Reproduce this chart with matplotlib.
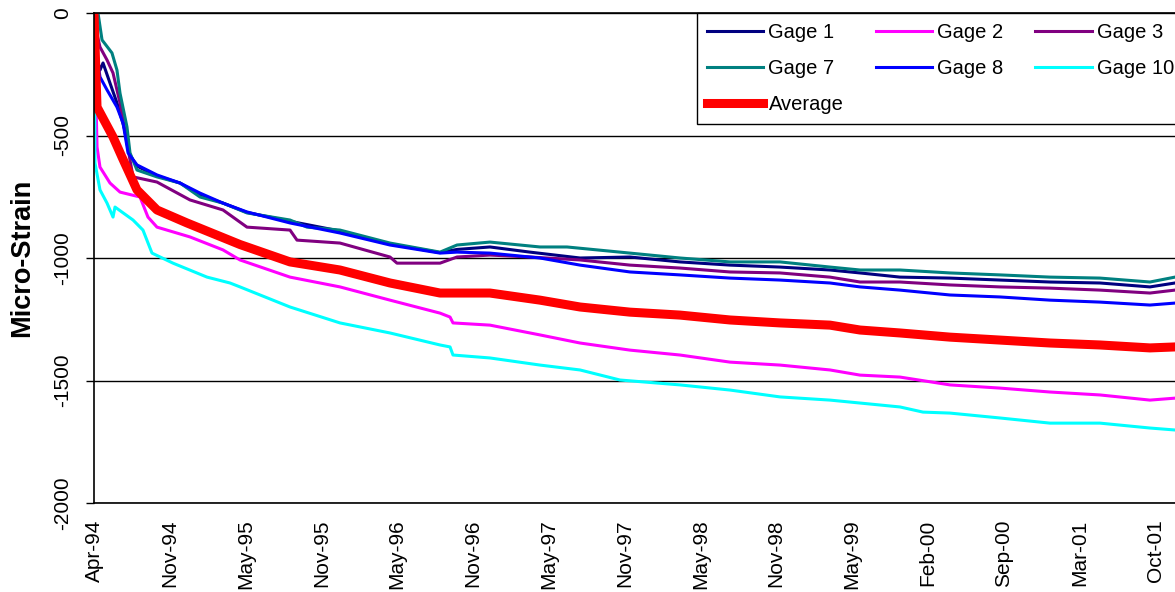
import matplotlib.pyplot as plt

plt.rcParams['font.family'] = ['Liberation Sans', 'DejaVu Sans']

# axis labels shown every N readings (category axis)
tick_labels = ["Apr-94", "Nov-94", "May-95", "Nov-95", "May-96", "Nov-96", "May-97",
               "Nov-97", "May-98", "Nov-98", "May-99", "Feb-00", "Sep-00", "Mar-01", "Oct-01"]

# gage readings, x in label-interval units
gage1_x = [0, 0.05, 0.079, 0.119, 0.211, 0.303, 0.40, 0.475, 0.567, 0.831, 1.135, 1.398, 1.702,
           2.018, 2.586, 3.245, 3.905, 4.565, 4.789, 5.224, 5.752, 6.412, 7.071, 7.731, 8.391,
           9.050, 9.710, 10.106, 10.633, 11.293, 11.953, 12.612, 13.272, 13.931, 14.261]
gage1_y = [0, -200, -233, -204, -286, -367, -470, -580, -625, -665, -694, -743, -776,
           -814, -850, -890, -943, -978, -965, -955, -976, -1000, -996, -1016, -1029,
           -1037, -1049, -1061, -1078, -1082, -1090, -1098, -1102, -1118, -1102]

gage2_x = [0, 0.04, 0.079, 0.211, 0.343, 0.607, 0.712, 0.831, 1.266, 1.702, 1.926, 2.586, 3.245,
           3.905, 4.565, 4.697, 4.736, 5.224, 5.884, 6.412, 7.071, 7.731, 8.391, 9.050, 9.710,
           10.106, 10.633, 11.293, 11.953, 12.612, 13.272, 13.931, 14.261]
gage2_y = [0, -547, -629, -694, -731, -751, -833, -874, -914, -967, -1008, -1078, -1118,
           -1172, -1225, -1241, -1265, -1274, -1314, -1347, -1376, -1396, -1425, -1437, -1457,
           -1478, -1486, -1518, -1531, -1547, -1559, -1580, -1572]

gage3_x = [0, 0.05, 0.079, 0.172, 0.251, 0.343, 0.435, 0.515, 0.831, 1.266, 1.702, 2.018, 2.586,
           2.678, 3.245, 3.905, 3.997, 4.565, 4.789, 5.224, 5.752, 6.412, 7.071, 7.731, 8.391,
           9.050, 9.710, 10.106, 10.633, 11.293, 11.953, 12.612, 13.272, 13.931, 14.261]
gage3_y = [0, -100, -139, -192, -245, -367, -531, -669, -690, -763, -804, -874, -886,
           -927, -939, -996, -1021, -1021, -996, -988, -996, -1008, -1029, -1041, -1057,
           -1061, -1078, -1098, -1098, -1110, -1118, -1123, -1131, -1143, -1131]

gage7_x = [0, 0.053, 0.106, 0.237, 0.303, 0.343, 0.435, 0.475, 0.567, 0.831, 1.135, 1.398, 1.702,
           2.018, 2.586, 2.810, 3.245, 3.905, 4.565, 4.789, 5.224, 5.884, 6.240, 7.071, 7.731,
           8.391, 9.050, 9.710, 10.106, 10.633, 11.293, 11.953, 12.612, 13.272, 13.931, 14.261]
gage7_y = [0, 0, -110, -163, -233, -327, -465, -571, -641, -669, -694, -751, -776,
           -816, -845, -874, -886, -939, -976, -947, -935, -955, -955, -980, -1000,
           -1016, -1016, -1037, -1049, -1049, -1061, -1069, -1078, -1082, -1098, -1078]

gage8_x = [0, 0.05, 0.079, 0.172, 0.303, 0.383, 0.449, 0.567, 0.831, 1.135, 1.398, 1.702, 2.018,
           2.586, 3.245, 3.905, 4.565, 4.789, 5.224, 5.884, 6.412, 7.071, 7.731, 8.391, 9.050,
           9.710, 10.106, 10.633, 11.293, 11.953, 12.612, 13.272, 13.931, 14.261]
gage8_y = [0, -200, -261, -314, -384, -449, -571, -620, -661, -694, -735, -776, -812,
           -857, -898, -947, -980, -976, -980, -1000, -1029, -1057, -1069, -1082, -1090,
           -1102, -1118, -1131, -1151, -1159, -1172, -1180, -1192, -1184]

gage10_x = [0, 0.01, 0.013, 0.079, 0.172, 0.251, 0.277, 0.515, 0.646, 0.765, 1.042, 1.491, 1.794,
            1.926, 2.586, 3.245, 3.905, 4.565, 4.697, 4.736, 5.224, 5.884, 6.412, 6.939, 7.731,
            8.391, 9.050, 9.710, 10.106, 10.633, 10.937, 11.293, 11.953, 12.612, 13.272, 13.931, 14.261]
gage10_y = [0, -396, -612, -722, -776, -833, -792, -845, -886, -980, -1021, -1078, -1102,
            -1118, -1200, -1265, -1306, -1355, -1363, -1396, -1408, -1437, -1457, -1498, -1518,
            -1539, -1567, -1580, -1592, -1608, -1629, -1633, -1653, -1674, -1674, -1694, -1702]

avg_x = [0, 0.04, 0.251, 0.369, 0.567, 0.831, 1.227, 1.926, 2.586, 3.245, 3.905, 4.565, 5.224,
         5.884, 6.412, 7.071, 7.731, 8.391, 9.050, 9.710, 10.106, 10.633, 11.293, 11.953,
         12.612, 13.272, 13.931, 14.261]
avg_y = [0, -384, -506, -588, -722, -804, -857, -945, -1016, -1049, -1102, -1143, -1143,
         -1172, -1200, -1221, -1233, -1253, -1265, -1274, -1294, -1306, -1323, -1335,
         -1347, -1355, -1367, -1363]

fig = plt.figure(figsize=(11.75, 5.92), dpi=100)
ax = fig.add_axes([94 / 1175, 89 / 592, 1090 / 1175, 490 / 592])

l1, = ax.plot(gage1_x, gage1_y, color="#000080", lw=2.2, label="Gage 1")
l2, = ax.plot(gage2_x, gage2_y, color="#FF00FF", lw=2.2, label="Gage 2")
l3, = ax.plot(gage3_x, gage3_y, color="#800080", lw=2.2, label="Gage 3")
l7, = ax.plot(gage7_x, gage7_y, color="#008080", lw=2.2, label="Gage 7")
l8, = ax.plot(gage8_x, gage8_y, color="#0000FF", lw=2.2, label="Gage 8")
l10, = ax.plot(gage10_x, gage10_y, color="#00FFFF", lw=2.2, label="Gage 10")
la, = ax.plot(avg_x, avg_y, color="#FF0000", lw=6.5, label="Average")

ax.set_ylim(-2000, 0)
ax.set_xlim(0, 1090 / 75.8)
ax.set_yticks([0, -500, -1000, -1500, -2000])
ax.set_yticklabels(["0", "-500", "-1000", "-1500", "-2000"], rotation=90, va="center")
ax.set_xticks(range(len(tick_labels)))
ax.set_xticklabels(tick_labels, rotation=90)
ax.tick_params(axis="y", length=6, width=1, pad=10, labelsize=15)
ax.tick_params(axis="x", length=0, pad=12, labelsize=15)
ax.grid(axis="y", color="black", lw=1)
ax.grid(axis="x", visible=False)
for s in ax.spines.values():
    s.set_linewidth(1.2)
ax.set_ylabel("Micro-Strain", fontsize=19.5, fontweight="bold", labelpad=13)

# legend laid out column by column to read row-wise
handles = [l1, l7, la, l2, l8, l3, l10]
leg = ax.legend(handles=handles, labels=[h.get_label() for h in handles], ncol=3,
                loc="upper left", bbox_to_anchor=(697 / 1175, 1 - 13 / 592),
                bbox_transform=fig.transFigure, fontsize=14.5, frameon=True,
                fancybox=False, edgecolor="black", framealpha=1, borderaxespad=0,
                handlelength=2.8, handletextpad=0.25, columnspacing=1.6,
                labelspacing=0.85, borderpad=0.5)
leg.get_frame().set_linewidth(1)

plt.savefig("out.png", dpi=100)
